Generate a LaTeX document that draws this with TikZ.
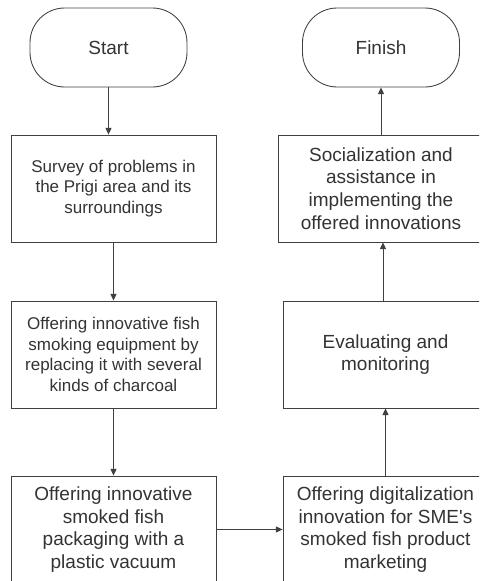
\documentclass[tikz,border=0pt]{standalone}
\usepackage{fontspec}
\setmainfont{Liberation Sans}
\usetikzlibrary{arrows.meta}

\begin{document}
\begin{tikzpicture}[x=0.75pt, y=-0.75pt, >={Triangle[width=4.5pt, length=5pt]}, termStyle/.style={rectangle, rounded corners=26pt, draw=black!75, line width=0.65pt, text=black!80, minimum width=117.75pt, minimum height=59.25pt, font=\fontsize{14.25}{17}\selectfont}, boxStyle/.style={rectangle, draw=black!75, line width=0.65pt, text=black!80, minimum width=153.75pt, minimum height=80.25pt, align=center, font=\fontsize{14.25}{17}\selectfont}, smallStyle/.style={boxStyle, font=\fontsize{12.75}{15.5}\selectfont}, lineStyle/.style={draw=black!75, line width=0.65pt, ->}]
                    \clip (0, 0) rectangle (479, 581);

                    \node[termStyle] (start)  at (108.5, 47.5) {Start};
                    \node[termStyle] (finish) at (381, 47.5) {Finish};

                    \node[smallStyle](survey)  at (113.5, 188.5) {Survey of problems in\\the Prigi area and its\\surroundings};
                    \node[smallStyle](offer1)  at (113.5, 354.5) {Offering innovative fish\\smoking equipment by\\replacing it with several\\kinds of charcoal};
                    \node[boxStyle]  (pack)    at (113.5, 529.5) {Offering innovative\\smoked fish\\packaging with a\\plastic vacuum};

                    \node[boxStyle]  (digital) at (385.5, 529.5) {Offering digitalization\\innovation for SME\textquotesingle s\\smoked fish product\\marketing};
                    \node[boxStyle]  (eval)    at (385.5, 354.5) {Evaluating and\\monitoring};
                    \node[boxStyle]  (social)  at (381, 188.5) {Socialization and\\assistance in\\implementing the\\offered innovations};

                    \draw[lineStyle] (start.south) -- (start.south |- survey.north);
                    \draw[lineStyle] (survey.south) -- (offer1.north);
                    \draw[lineStyle] (offer1.south) -- (pack.north);
                    \draw[lineStyle] (pack.east) -- (digital.west);
                    \draw[lineStyle] (digital.north) -- (eval.south);
                    \draw[lineStyle] ([xshift=-1.9pt]eval.north) -- ([xshift=-1.9pt]eval.north |- social.south);
                    \draw[lineStyle] (social.north) -- (finish.south);
                \end{tikzpicture}
\end{document}
